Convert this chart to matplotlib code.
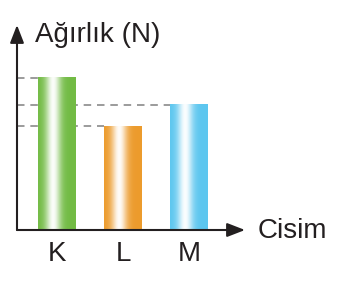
import numpy as np
import matplotlib
matplotlib.use('Agg')
import matplotlib.pyplot as plt
from matplotlib.colors import to_rgb

plt.rcParams['font.family'] = ['Liberation Sans', 'DejaVu Sans']

# veriler
cisimler = ['K', 'L', 'M']
agirlik = [6.0, 4.1, 4.95]
renkler = ['#72bb44', '#ec9b2c', '#5cc6ef']

W, H = 347, 282
fig = plt.figure(figsize=(W / 100, H / 100), dpi=100)
ax = fig.add_axes([17 / W, 52 / H, 228 / W, 205 / H])

x = np.arange(len(cisimler))
bw = 0.574
bars = ax.bar(x, agirlik, width=bw, color='none', zorder=3)

# bar gradyanı (kenarlar renkli, orta beyaz)
t = np.linspace(0, 1, 200)
beyaz = 0.97 * np.exp(-((t - 0.4) / 0.2) ** 2)
for b, c in zip(bars, renkler):
    rgb = np.array(to_rgb(c))
    img = rgb[None, :] * (1 - beyaz[:, None]) + beyaz[:, None]
    ax.imshow(img[None, :, :], extent=[b.get_x(), b.get_x() + b.get_width(), 0, b.get_height()],
              aspect='auto', zorder=3, interpolation='bilinear')

ax.set_xlim(-0.604, 2.84)
ax.set_ylim(0, 8.09)

# kesikli çizgiler
x0 = ax.get_xlim()[0]
for b, v in zip(bars, agirlik):
    ax.plot([x0, b.get_x()], [v, v], color='#8a8a8a', lw=1.2, dashes=(4.5, 3.5), zorder=1)

for s in ['top', 'right', 'left', 'bottom']:
    ax.spines[s].set_visible(False)

# eksen okları
ok = dict(arrowstyle='-|>,head_length=0.9,head_width=0.35', color='#231f20', lw=1.5,
          shrinkA=0, shrinkB=0, mutation_scale=12)
ax.annotate('', xy=(1, 0), xytext=(0, 0), xycoords='axes fraction', arrowprops=ok, zorder=5)
ax.annotate('', xy=(0, 1), xytext=(0, 0), xycoords='axes fraction', arrowprops=ok, zorder=5)

ax.set_yticks([])
ax.set_xticks(x, cisimler)
ax.tick_params(axis='x', length=0, pad=8, labelsize=20, labelcolor='#231f20')

fig.text(35 / W, 1 - 42 / H, 'Ağırlık (N)', fontsize=20, color='#231f20', va='baseline', ha='left')
fig.text(258 / W, 1 - 238 / H, 'Cisim', fontsize=20, color='#231f20', va='baseline', ha='left')

fig.savefig('out.png', dpi=100)
